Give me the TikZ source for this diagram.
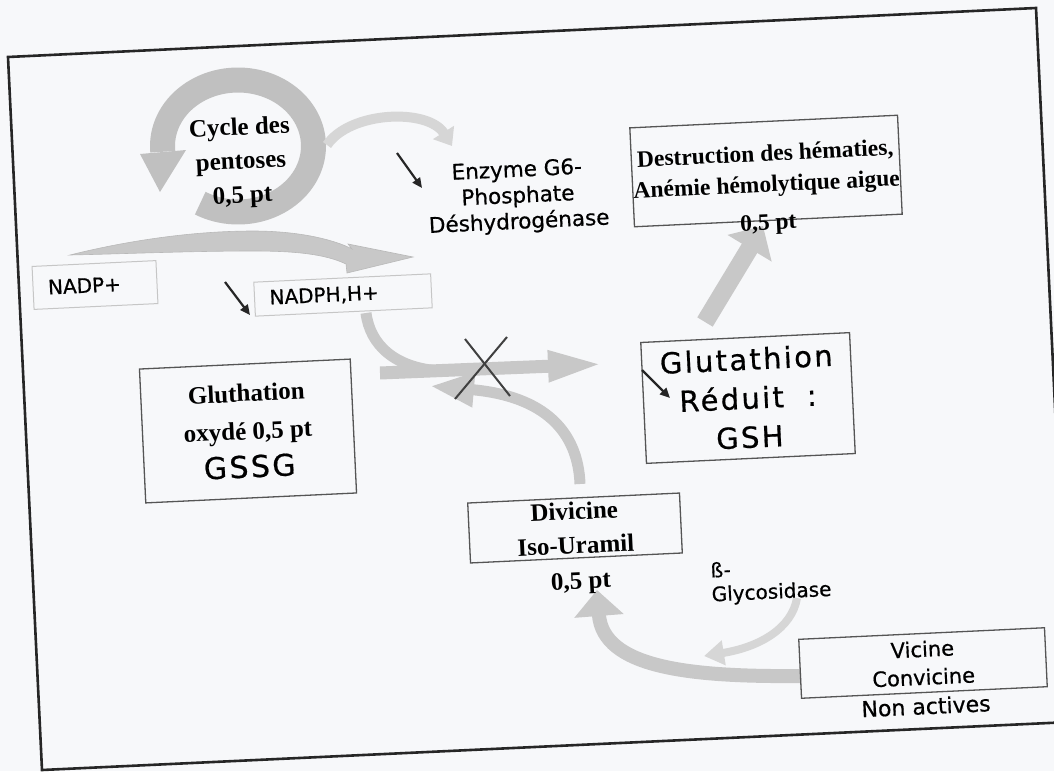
\documentclass[tikz,border=0pt]{standalone}
\usepackage{fontspec}
\setmainfont{Liberation Serif}
\newfontfamily\comic[FakeBold=0.6]{DejaVu Sans}
\newfontfamily\comicw[LetterSpace=8,FakeBold=0.6]{DejaVu Sans}
\usetikzlibrary{arrows.meta}
\pgfdeclarelayer{paper}
\pgfdeclarelayer{back}
\pgfsetlayers{paper,back,main}
\definecolor{bgc}{RGB}{247,248,250}
\definecolor{ringgray}{RGB}{192,192,192}
\definecolor{arrgray}{RGB}{200,200,200}
\definecolor{faintgray}{RGB}{214,214,214}
\definecolor{boxline}{RGB}{85,85,85}
\begin{document}
\begin{tikzpicture}[x=1pt,y=-1pt,
  every node/.append style={rotate=2.7},
  sbold/.style={font=\fontsize{25}{34}\selectfont\bfseries, align=center, inner sep=0pt},
  ctext/.style={font=\comic\fontsize{21.5}{26}\selectfont, align=center, inner sep=0pt},
  boxed/.style={draw=boxline, line width=1.3pt, inner sep=0pt},
  lightbox/.style={draw=gray!45, line width=1pt, inner ysep=0pt, align=left, font=\comic\fontsize{20}{24}\selectfont},
  blackarrow/.style={line width=2.2pt, black!85, -{Triangle[width=9pt,length=10pt]}},
  grayband/.style={arrgray, line cap=butt}
]
\useasboundingbox (0,0) rectangle (1054,771);
\clip (0,0) rectangle (1054,771);
\begin{pgfonlayer}{paper}
\fill[bgc] (0,0) rectangle (1054,771);
\end{pgfonlayer}
% frame
\draw[line width=2.6pt, black!85, line join=miter] (8,57) -- (1036,8) -- (1070,722) -- (42,770) -- cycle;

% ---------------- nodes ----------------
\node[sbold] (cyc) at (241,163) {Cycle des\\pentoses\\0,5 pt};
\node[ctext] (enz) at (518,197) {Enzyme G6-\\Phosphate\\Déshydrogénase};
\node[sbold, font=\fontsize{23.5}{31}\selectfont\bfseries] (dest) at (766,171)
      {Destruction des hématies,\\Anémie hémolytique aigue};
\draw[boxline, line width=1.3pt, rotate around={2.7:(dest.center)}] (632,121.5) rectangle (900,220.5);
\node[sbold, font=\fontsize{23.5}{32}\selectfont\bfseries] (dest05) at (768.5,224.4) {0,5 pt};
\node[lightbox, inner xsep=15pt, text width=94pt, minimum height=43pt] (nadp) at (95,285) {NADP+};
\node[lightbox, inner xsep=15pt, text width=147pt, minimum height=34pt] (nadph) at (343,295) {NADPH,H+};
\node[boxed, align=center, font=\fontsize{25}{38}\selectfont,
      minimum width=211pt, minimum height=134pt] (gssg) at (248,431)
      {\bfseries Gluthation\\\bfseries oxydé 0,5 pt\\{\comicw\fontsize{30}{38}\selectfont GSSG}};
\node[boxed, align=center, font=\comicw\fontsize{29}{39}\selectfont,
      minimum width=209pt, minimum height=121pt] (gsh) at (748,398)
      {Glutathion\\Réduit~~:\\GSH};
\node[boxed, align=center, font=\fontsize{25}{34}\selectfont\bfseries,
      minimum width=212pt, minimum height=60pt] (div) at (575,528)
      {Divicine\\Iso-Uramil};
\node[sbold] (div05) at (581,583) {0,5 pt};
\node[boxed, align=center, font=\comic\fontsize{21}{28}\selectfont,
      minimum width=246pt, minimum height=59pt] (vic) at (923,663)
      {Vicine\\Convicine};
\node[ctext, font=\comic\fontsize{22}{28}\selectfont] (nonact) at (926,706) {Non actives};
\node[ctext, align=left, anchor=west, font=\comic\fontsize{20}{24}\selectfont] (glyco) at (711,584) {ß-\\Glycosidase};

% ---------------- coordinates ----------------
\coordinate (arcS) at (327,145);
\coordinate (arcE) at (452,146);
\coordinate (e1) at (397,153);  \coordinate (e2) at (422,188);
\coordinate (n1) at (225,282);  \coordinate (n2) at (250,315);
\coordinate (g1) at (642,370);  \coordinate (g2) at (670,398);
\coordinate (flowS) at (366,313);
\coordinate (flowM) at (440,371);
\coordinate (horS) at (380,373);
\coordinate (horE) at (604,364);
\coordinate (retS) at (580,484);
\coordinate (retE) at (430,386);
\coordinate (upS) at (705,322);
\coordinate (upE) at (763,226);
\coordinate (vS) at (801,676);
\coordinate (vE) at (597,590);
\coordinate (gyS) at (797,598);
\coordinate (gyE) at (704,656);

% ---------------- gray arrows (background) ----------------
\begin{pgfonlayer}{back}
% pentose cycle ring
\draw[line width=25pt, ringgray] plot[domain=240:545, samples=90] ({238+75.5*cos(\x)},{146-66*sin(\x)});
\fill[ringgray] (140,154) -- (186,150) -- (160,192) -- cycle;
% faint arc towards enzyme
\draw[line width=10pt, faintgray, -{Triangle[width=24pt,length=16pt]}] (arcS) .. controls (350,111) and (428,108) .. (arcE);
% swoosh under the ring
\fill[arrgray, draw=gray!55, line width=0.6pt] (70,255) .. controls (130,240) and (195,231) .. (253,231)
   .. controls (300,231) and (335,240) .. (352,249) -- (348,244) -- (413,257) -- (347,273) -- (346,264)
   .. controls (325,254) and (295,251) .. (253,251) .. controls (190,251) and (120,254) .. (70,255) -- cycle;
% NADPH flow
\draw[line width=11pt, grayband] (flowS) .. controls (370,345) and (395,368) .. (flowM);
\draw[line width=13pt, grayband, -{Triangle[width=28pt,length=56pt]}] (horS) -- (horE);
% return arrow from Divicine
\draw[line width=11pt, grayband, -{Triangle[width=32pt,length=44pt]}] (retS) .. controls (578,432) and (545,396) .. (retE);
% arrow up to destruction
\draw[line width=18pt, grayband, -{Triangle[width=50pt,length=26pt]}] (upS) -- (upE);
% arrow from Vicine
\draw[line width=14pt, grayband, -{Triangle[width=48pt,length=26pt]}] (vS) .. controls (690,677) and (603,668) .. (vE);
% faint glycosidase arc
\draw[line width=8pt, faintgray, -{Triangle[width=24pt,length=20pt]}] (gyS) .. controls (792,628) and (760,647) .. (gyE);
\end{pgfonlayer}

% X cross
\draw[line width=2pt, black!75] (465,339) -- (510,396);
\draw[line width=2pt, black!75] (507,337) -- (455,399);

% small black arrows
\draw[blackarrow] (e1) -- (e2);
\draw[blackarrow] (n1) -- (n2);
\draw[blackarrow] (g1) -- (g2);
\end{tikzpicture}
\end{document}
